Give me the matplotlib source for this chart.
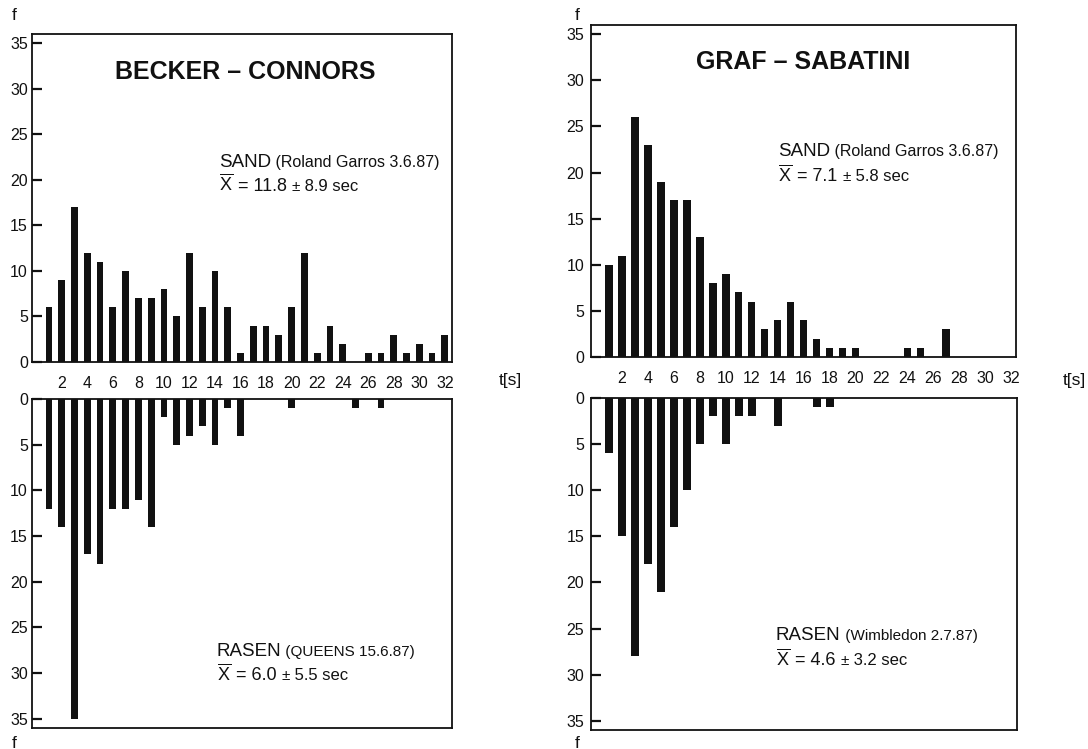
import matplotlib
matplotlib.use("Agg")
import matplotlib.pyplot as plt
import numpy as np

# ---------------- data ----------------
t = list(range(1, 33))
becker_sand = [6, 9, 17, 12, 11, 6, 10, 7, 7, 8, 5, 12, 6, 10, 6, 1,
               4, 4, 3, 6, 12, 1, 4, 2, 0, 1, 1, 3, 1, 2, 1, 3]
becker_rasen = [12, 14, 35, 17, 18, 12, 12, 11, 14, 2, 5, 4, 3, 5, 1, 4,
                0, 0, 0, 1, 0, 0, 0, 0, 1, 0, 1, 0, 0, 0, 0, 0]
graf_sand = [10, 11, 26, 23, 19, 17, 17, 13, 8, 9, 7, 6, 3, 4, 6, 4,
             2, 1, 1, 1, 0, 0, 0, 1, 1, 0, 3, 0, 0, 0, 0, 0]
graf_rasen = [6, 15, 28, 18, 21, 14, 10, 5, 2, 5, 2, 2, 0, 3, 0, 0,
              1, 1, 0, 0, 0, 0, 0, 0, 0, 0, 0, 0, 0, 0, 0, 0]
x_ticks = list(range(2, 33, 2))
y_ticks = [0, 5, 10, 15, 20, 25, 30, 35]

titles = ["BECKER – CONNORS", "GRAF – SABATINI"]
sand_place = ["SAND", "SAND"]
sand_event = [" (Roland Garros 3.6.87)", " (Roland Garros 3.6.87)"]
sand_mean = ["11.8", "7.1"]
sand_sd = ["8.9 sec", "5.8 sec"]
rasen_place = ["RASEN", "RASEN"]
rasen_event = [" (QUEENS 15.6.87)", " (Wimbledon 2.7.87)"]
rasen_mean = ["6.0", "4.6"]
rasen_sd = ["5.5 sec", "3.2 sec"]

# ---------------- style ----------------
plt.rcParams['font.family'] = ['Liberation Sans', 'DejaVu Sans']
plt.rcParams['mathtext.fontset'] = 'custom'
plt.rcParams['mathtext.rm'] = 'Liberation Sans'
plt.rcParams['mathtext.it'] = 'Liberation Sans'

W, H = 1088, 749
fig = plt.figure(figsize=(W / 100, H / 100), dpi=100)
fig.patch.set_facecolor('white')
INK = '#111111'


def px_axes(x0, y0, x1, y1):
    return fig.add_axes([x0 / W, 1 - y1 / H, (x1 - x0) / W, (y1 - y0) / H])


renderer = fig.canvas.get_renderer()


def seq_text(ax, x, y, parts):
    """Draw text pieces one after another on one baseline (axes coords)."""
    cur = x
    for s, size in parts:
        txt = ax.text(cur, y, s, transform=ax.transAxes, fontsize=size,
                      ha='left', va='baseline', color=INK)
        bb = txt.get_window_extent(renderer=renderer)
        cur = ax.transAxes.inverted().transform((bb.x1, bb.y0))[0]


def style_axes(ax, xlim, ylim, ypad, top):
    ax.set_xlim(*xlim)
    ax.set_ylim(*ylim)
    for sp in ax.spines.values():
        sp.set_linewidth(1.3)
        sp.set_color(INK)
    ax.set_yticks(y_ticks)
    ax.set_yticklabels([str(v) for v in y_ticks])
    ax.tick_params(axis='y', direction='in', length=7, width=1.6,
                   labelsize=11.5, pad=ypad, colors=INK)
    if top:
        ax.set_xticks(x_ticks)
        ax.set_xticklabels([str(v) for v in x_ticks])
        ax.tick_params(axis='x', length=0, labelsize=11.5, pad=10,
                       colors=INK)
    else:
        ax.set_xticks([])


panels = [
    dict(top=(32, 34, 452, 362), bot=(32, 399, 452, 728),
         xlim=(-0.33, 32.56), width=0.53, ypad=3,
         sand=becker_sand, rasen=becker_rasen,
         title_xy=(0.507, 0.884),
         sand_xy=(0.445, 0.595), sand2_y=0.522,
         rasen_xy=(0.44, 0.22), rasen2_y=0.145,
         ts_x=510, f_x=14),
    dict(top=(591, 25, 1016, 357), bot=(591, 398, 1017, 730),
         xlim=(-0.39, 32.38), width=0.58, ypad=5,
         sand=graf_sand, rasen=graf_rasen,
         title_xy=(0.499, 0.889),
         sand_xy=(0.44, 0.605), sand2_y=0.530,
         rasen_xy=(0.434, 0.27), rasen2_y=0.195,
         ts_x=1074, f_x=577),
]

for i, p in enumerate(panels):
    ax_t = px_axes(*p['top'])
    ax_b = px_axes(*p['bot'])
    ax_t.bar(t, p['sand'], width=p['width'], color=INK, linewidth=0)
    ax_b.bar(t, p['rasen'], width=p['width'], color=INK, linewidth=0)
    style_axes(ax_t, p['xlim'], (0, 36), p['ypad'], True)
    style_axes(ax_b, p['xlim'], (36, 0), p['ypad'], False)

    ax_t.text(p['title_xy'][0], p['title_xy'][1], titles[i],
              transform=ax_t.transAxes, fontsize=18, fontweight='bold',
              ha='center', va='center', color=INK)

    xs, ys = p['sand_xy']
    seq_text(ax_t, xs, ys, [(sand_place[i], 13.5), (sand_event[i], 11.5)])
    seq_text(ax_t, xs, p['sand2_y'],
             [(r'$\overline{\mathrm{X}}$', 13), (' = ' + sand_mean[i] + ' ', 13),
              ('±', 11), (' ' + sand_sd[i], 12)])

    xr, yr = p['rasen_xy']
    seq_text(ax_b, xr, yr, [(rasen_place[i], 13.5), (rasen_event[i], 11)])
    seq_text(ax_b, xr, p['rasen2_y'],
             [(r'$\overline{\mathrm{X}}$', 13), (' = ' + rasen_mean[i] + ' ', 13),
              ('±', 11), (' ' + rasen_sd[i], 12)])

    fig.text(p['ts_x'] / W, 1 - 381 / H, 't[s]', fontsize=12.5,
             ha='center', va='center', color=INK)
    fig.text(p['f_x'] / W, 1 - 15 / H, 'f', fontsize=12.5,
             ha='center', va='center', color=INK)
    fig.text(p['f_x'] / W, 1 - 743 / H, 'f', fontsize=12.5,
             ha='center', va='center', color=INK)

fig.savefig('out.png', dpi=100, facecolor='white')
